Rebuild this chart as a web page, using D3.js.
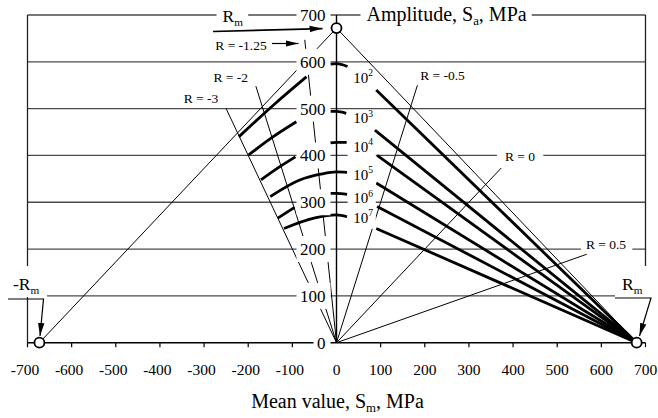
<!DOCTYPE html>
<html lang="en">
<head>
<meta charset="UTF-8">
<title>Haigh diagram</title>
<script src="https://d3js.org/d3.v7.min.js"></script>
<style>
    body { margin: 0; background: #fff; }
    svg { display: block; font-family: "Liberation Serif", "Times New Roman", serif; }
</style>
</head>
<body>
<svg id="chart" width="658" height="418"></svg>
<script>
// axis ticks (MPa)
const xTicks = [-700, -600, -500, -400, -300, -200, -100, 0, 100, 200, 300, 400, 500, 600, 700];
const yTicks = [0, 100, 200, 300, 400, 500, 600, 700];

// ultimate strength points: -Rm, Rm on amplitude axis, Rm on mean axis
const rmPoints = [[-673, 0], [0, 672], [680, 0]];

// stress ratio rays from origin, with the amplitude where each ray ends
const rayR = [-3, -2, -1.25, -0.5, 0, 0.5];
const rayEndSa = [500, 548, 647, 550, 373, 189];

// life curves, N = 10^2 ... 10^7 ([Sm, Sa] pairs)
const cycleExp = ["2", "3", "4", "5", "6", "7"];
const leftCurves = [
    [[-221, 440], [-140, 510], [-68, 568]],
    [[-199, 401], [-145, 439], [-91, 472]],
    [[-171, 348], [-130, 375], [-93, 397]],
    [[-150, 312], [-82, 348], [-36, 360], [0, 365], [24, 364]],
    [[-133, 266], [-95, 289]],
    [[-119, 244], [-51, 266], [0, 273], [24, 269]]
];
const axisCurves = [
    [[-14, 595], [0, 596], [25, 590]],
    [[-14, 494], [0, 494], [22, 490]],
    [[-14, 427], [0, 428], [23, 428]],
    [],
    [[-14, 319], [0, 319], [24, 317]],
    []
];
const rightStart = [[90, 540], [87, 454], [92, 400], [90, 341], [92, 291], [90, 244]];
const cycleLabelSa = [555, 469, 408, 348, 298, 256];

const svg = d3.select("#chart");
const x = d3.scaleLinear().domain([-700, 700]).range([27.5, 645.5]);
const y = d3.scaleLinear().domain([0, 700]).range([342.7, 15]);

const defs = svg.append("defs");
defs.append("marker")
    .attr("id", "arrow")
    .attr("markerUnits", "userSpaceOnUse")
    .attr("viewBox", "0 -4 13 8")
    .attr("refX", 13).attr("refY", 0)
    .attr("markerWidth", 13).attr("markerHeight", 8)
    .attr("orient", "auto")
    .append("path").attr("d", "M0,-3.2L13,0L0,3.2Z").attr("fill", "#000");

const line = d3.line().x(d => x(d[0])).y(d => y(d[1]));
const smooth = d3.line().x(d => x(d[0])).y(d => y(d[1])).curve(d3.curveMonotoneX);

// grid and frame
const grid = svg.append("g").attr("stroke", "#4a4a4a").attr("stroke-width", 1.3);
yTicks.filter(v => v > 0).forEach(v => {
    grid.append("line").attr("x1", x(-700)).attr("x2", x(700)).attr("y1", y(v)).attr("y2", y(v));
});
grid.append("line").attr("x1", x(-700)).attr("x2", x(-700)).attr("y1", y(700)).attr("y2", y(0)).attr("stroke", "#222");
grid.append("line").attr("x1", x(700)).attr("x2", x(700)).attr("y1", y(700)).attr("y2", y(100)).attr("stroke", "#222");

// axes
svg.append("line").attr("x1", x(-700)).attr("x2", x(700)).attr("y1", y(0)).attr("y2", y(0))
    .attr("stroke", "#000").attr("stroke-width", 1.4);
svg.append("line").attr("x1", x(0)).attr("x2", x(0)).attr("y1", y(0)).attr("y2", y(700))
    .attr("stroke", "#000").attr("stroke-width", 1.4);

// thin lines: Rm triangle and R rays
const thin = svg.append("g").attr("fill", "none").attr("stroke", "#000").attr("stroke-width", 1);
thin.append("path").attr("d", line([rmPoints[0], rmPoints[1], rmPoints[2]]));
rayR.forEach((r, i) => {
    const sa = rayEndSa[i];
    const sm = sa * (1 + r) / (1 - r);
    thin.append("path").attr("d", line([[0, 0], [sm, sa]]));
});

// thick life curves
const thick = svg.append("g").attr("fill", "none").attr("stroke", "#000")
    .attr("stroke-width", 2.8).attr("stroke-linecap", "butt");
cycleExp.forEach((c, i) => {
    thick.append("path").attr("d", smooth(leftCurves[i]));
    if (axisCurves[i].length) thick.append("path").attr("d", smooth(axisCurves[i]));
    thick.append("path").attr("d", line([rightStart[i], rmPoints[2]]));
});

// labels with white boxes behind them
const labels = svg.append("g");
function boxed(node, pad) {
    const b = node.node().getBBox();
    labels.insert("rect", function() { return node.node(); })
        .attr("x", b.x - pad[0]).attr("y", b.y - pad[2])
        .attr("width", b.width + pad[0] + pad[1]).attr("height", b.height + pad[2] + pad[3])
        .attr("fill", "#fff");
}
function addText(px, py, parts, size, anchor) {
    const t = labels.append("text").attr("x", px).attr("y", py)
        .attr("font-size", size).attr("text-anchor", anchor || "start").attr("fill", "#000");
    let shift = 0;
    parts.forEach(p => {
        const s = t.append("tspan").text(p.t);
        const want = p.sub ? 3.5 : p.sup ? -6.5 : 0;
        if (want !== shift) { s.attr("dy", want - shift); shift = want; }
        if (p.sub || p.sup) s.attr("font-size", size * 0.64);
    });
    return t;
}

// amplitude tick labels
yTicks.forEach(v => {
    const t = addText(x(0) - 11, y(v) + 6, [{t: String(v)}], 17, "end");
    const b = t.node().getBBox();
    labels.insert("rect", () => t.node())
        .attr("x", b.x - 3.5).attr("y", v === 700 ? 0 : y(v) - (v === 0 ? 9 : 13))
        .attr("width", x(0) - 6 - (b.x - 3.5))
        .attr("height", v === 700 ? 29 : v === 0 ? 18 : 26)
        .attr("fill", "#fff");
});

// cycle labels 10^n
cycleExp.forEach((c, i) => {
    const t = addText(x(38), y(cycleLabelSa[i]), [{t: "10"}, {t: c, sup: true}], 15, "start");
    const yb = y(cycleLabelSa[i]);
    labels.insert("rect", () => t.node())
        .attr("x", x(24) + 0.5).attr("y", yb - 12)
        .attr("width", x(89) - x(24) - 0.5).attr("height", 18).attr("fill", "#fff");
});

// stress ratio labels
boxed(addText(201, 103, [{t: "R = -3"}], 13.5, "middle"), [2, 2, 0, 0]);
boxed(addText(230.7, 81.5, [{t: "R = -2"}], 13.5, "middle"), [2, 2, 0, 0]);
boxed(addText(241, 50, [{t: "R = -1.25"}], 13.5, "middle"), [2, 2, 0, 0]);
boxed(addText(442.5, 80, [{t: "R = -0.5"}], 13.5, "middle"), [2, 2, 0, 0]);
boxed(addText(520, 160.5, [{t: "R = 0"}], 13.5, "middle"), [8, 8, 0, 0]);
boxed(addText(606, 248.5, [{t: "R = 0.5"}], 13.5, "middle"), [5, 6, 0, 0]);

// titles on the frame
boxed(addText(222.5, 22, [{t: "R"}, {t: "m", sub: true}], 17.5, "start"), [6, 5, 0, 0]);
boxed(addText(366.5, 21, [{t: "Amplitude, S"}, {t: "a", sub: true}, {t: ", MPa"}], 20, "start"), [6, 5, 0, 0]);
const lm = addText(13, 290, [{t: "-R"}, {t: "m", sub: true}], 17.5, "start");
labels.insert("rect", () => lm.node()).attr("x", 5).attr("y", 266).attr("width", 42).attr("height", 31).attr("fill", "#fff");
const rm = addText(622, 290, [{t: "R"}, {t: "m", sub: true}], 17.5, "start");
labels.insert("rect", () => rm.node()).attr("x", 615).attr("y", 266).attr("width", 36).attr("height", 31).attr("fill", "#fff");

// mean value ticks and labels
const xt = svg.append("g");
xTicks.forEach(v => {
    if (v !== 0) {
        xt.append("line").attr("x1", x(v)).attr("x2", x(v)).attr("y1", y(0)).attr("y2", y(0) + 4.5)
            .attr("stroke", "#000").attr("stroke-width", 1.2);
    }
    xt.append("text").attr("x", x(v) - (v < 0 ? 2.5 : 0)).attr("y", 375)
        .attr("text-anchor", "middle").attr("font-size", 15.5).text(v);
});
addText(337.5, 408, [{t: "Mean value, S"}, {t: "m", sub: true}, {t: ", MPa"}], 20, "middle");

// annotation arrows
const arr = svg.append("g").attr("fill", "none").attr("stroke", "#000").attr("stroke-width", 1.2);
arr.append("path").attr("d", "M213,31.5L322.5,28.6").attr("marker-end", "url(#arrow)").attr("stroke-width", 1.6);
arr.append("path").attr("d", "M272,43.5L298.5,43.5").attr("marker-end", "url(#arrow)");
arr.append("path").attr("d", "M8,299L43.5,299L40,336").attr("marker-end", "url(#arrow)");
arr.append("path").attr("d", "M615,298L651,298L639.5,336").attr("marker-end", "url(#arrow)");

// Rm circles
svg.append("g").selectAll("circle").data(rmPoints).join("circle")
    .attr("cx", d => x(d[0])).attr("cy", d => y(d[1])).attr("r", 5)
    .attr("fill", "#fff").attr("stroke", "#000").attr("stroke-width", 1.8);
</script>
</body>
</html>
